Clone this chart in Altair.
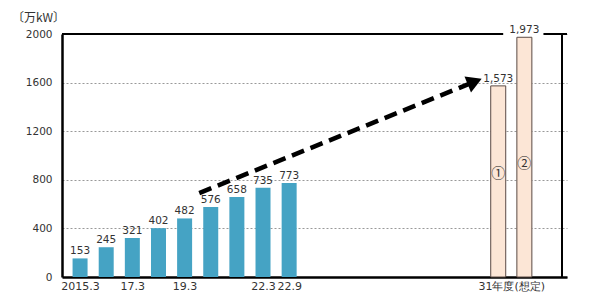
import altair as alt
import pandas as pd

# ---- data ----
slots = [0, 1, 2, 3, 4, 5, 6, 7, 8]
values = [153, 245, 321, 402, 482, 576, 658, 735, 773]
fc_slots = [16, 17]
fc_values = [1573, 1973]
fc_marks = ["①", "②"]
fc_mark_y = [850, 930]
tick_pos = [0, 2, 4, 7, 8, 16.5]
tick_labels = ["2015.3", "17.3", "19.3", "22.3", "22.9", "31年度(想定)"]
arrow_x = [4.56, 15.1]
arrow_y = [691, 1608]
y_ticks = [0, 400, 800, 1200, 1600, 2000]

X_MIN, X_MAX = -0.5, 18.44
FONT = "DejaVu Sans"

hist = pd.DataFrame({"x": slots, "v": values})
fc = pd.DataFrame({"x": fc_slots, "v": fc_values, "m": fc_marks, "my": fc_mark_y})
arrow = pd.DataFrame({"x": arrow_x, "y": arrow_y})
head = arrow.tail(1)

label_map = "{" + ",".join(f"'{p}':'{l}'" for p, l in zip(tick_pos, tick_labels)) + "}"

xs = alt.Scale(domain=[X_MIN, X_MAX], nice=False, zero=False)
ys = alt.Scale(domain=[0, 2000], nice=False)

xaxis = alt.Axis(values=tick_pos, labelExpr=f"{label_map}[datum.value + '']", grid=False,
                 ticks=False, tickSize=0, domainColor="black", domainWidth=2.5,
                 labelFont=FONT, labelFontSize=11, labelColor="#333", labelPadding=3,
                 title=None, labelFlush=False)
yaxis = alt.Axis(values=y_ticks, format="d", grid=True, gridColor="#999", gridDash=[2, 2], gridWidth=1,
                 ticks=False, tickSize=0, domainColor="black", domainWidth=2.5,
                 labelFont=FONT, labelFontSize=10.5, labelColor="#333", labelPadding=10,
                 title="〔万kW〕", titleAngle=0, titleX=-24, titleY=-17, titleAlign="center",
                 titleBaseline="middle", titleFont="Noto Sans CJK JP", titleFontSize=12,
                 titleFontWeight="normal", titleColor="#333")

base_axes = alt.Chart(hist).mark_bar(opacity=0).encode(
    x=alt.X("x:Q", scale=xs, axis=xaxis),
    y=alt.Y("v:Q", scale=ys, axis=yaxis),
)

top_rule = alt.Chart(hist).mark_rule(color="black", strokeWidth=1.5).encode(y=alt.datum(2000, scale=ys))
right_rule = alt.Chart(hist).mark_rule(color="black", strokeWidth=1.5).encode(x=alt.datum(X_MAX, scale=xs))

gap = alt.Chart(pd.DataFrame({"a": [16.19], "b": [17.73], "c": [1988], "d": [2040]})).mark_rect(
    color="white").encode(x=alt.X("a:Q", scale=xs), x2="b", y=alt.Y("c:Q", scale=ys), y2="d")

bars = alt.Chart(hist).mark_bar(size=15, color="#45A3C4").encode(
    x=alt.X("x:Q", scale=xs), y=alt.Y("v:Q", scale=ys))
bar_text = alt.Chart(hist).mark_text(baseline="bottom", dy=-2, font=FONT, fontSize=10.5,
                                     color="#333").encode(
    x=alt.X("x:Q", scale=xs), y=alt.Y("v:Q", scale=ys), text="v:Q")

fc_bars = alt.Chart(fc).mark_bar(size=15, color="#FCE6D6", stroke="#5a4a44", strokeWidth=1).encode(
    x=alt.X("x:Q", scale=xs), y=alt.Y("v:Q", scale=ys))
fc_text = alt.Chart(fc).mark_text(baseline="bottom", dy=-2, font=FONT, fontSize=10.5,
                                  color="#333").encode(
    x=alt.X("x:Q", scale=xs), y=alt.Y("v:Q", scale=ys), text=alt.Text("v:Q", format=","))
fc_marks_t = alt.Chart(fc).mark_text(font="Noto Sans CJK JP", fontSize=14, color="#333").encode(
    x=alt.X("x:Q", scale=xs), y=alt.Y("my:Q", scale=ys), text="m:N")

arrow_line = alt.Chart(arrow).mark_line(color="black", strokeWidth=4.5, strokeDash=[13, 7]).encode(
    x=alt.X("x:Q", scale=xs), y=alt.Y("y:Q", scale=ys))
arrow_head = alt.Chart(head).mark_point(shape="triangle-right", filled=True, opacity=1,
                                        color="black", size=300, angle=338).encode(
    x=alt.X("x:Q", scale=xs), y=alt.Y("y:Q", scale=ys))

chart = alt.layer(base_axes, top_rule, right_rule, gap, bars, bar_text, fc_bars, fc_text,
                  fc_marks_t, arrow_line, arrow_head).properties(
    width=505, height=243,
    padding={"left": 62, "top": 34, "right": 23, "bottom": 23},
    autosize=alt.AutoSizeParams(type="none"),
    background="white",
).configure_view(stroke=None)

chart.save("out.html", embed_options={"renderer": "svg", "actions": False})
